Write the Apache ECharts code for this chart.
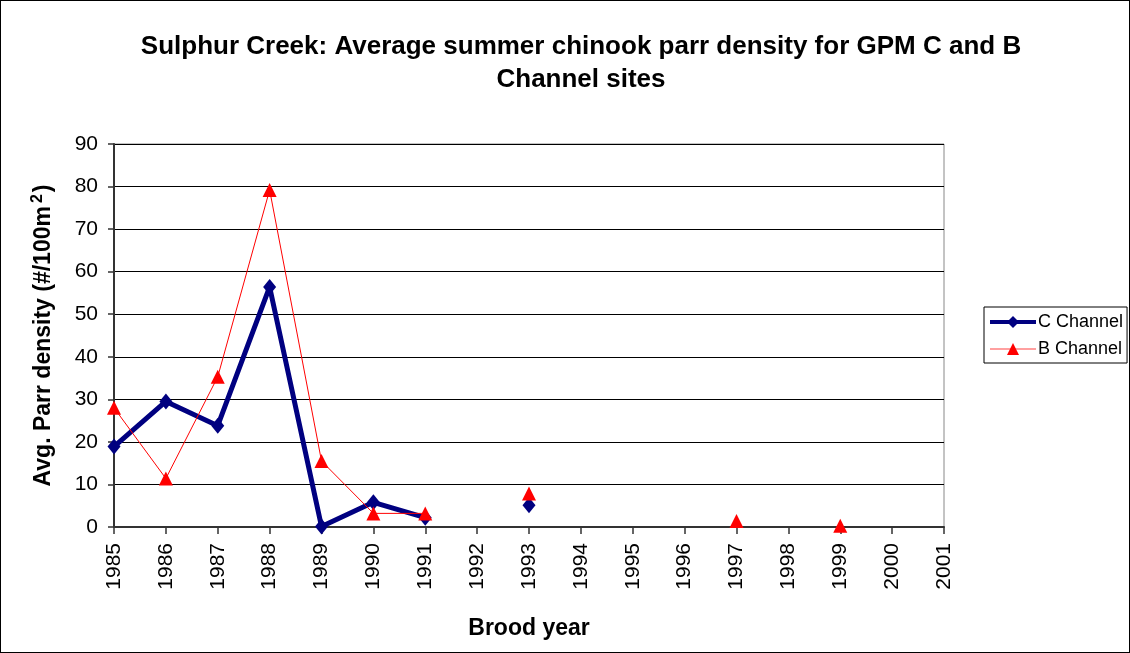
<!DOCTYPE html>
<html>
<head>
<meta charset="utf-8">
<script src="https://cdn.jsdelivr.net/npm/echarts@6/dist/echarts.min.js"></script>
<style>
  html, body { margin: 0; padding: 0; background: #fff; }
  #chart { width: 1130px; height: 653px; box-sizing: border-box; border: 1px solid #000; }
</style>
</head>
<body>
<div id="chart"></div>
<script>
// Brood years on the category axis
const years = ['1985','1986','1987','1988','1989','1990','1991','1992','1993','1994','1995','1996','1997','1998','1999','2000','2001'];
// Average parr density (#/100 m²); null where no sample
const cChannel = [18.9, 29.5, 23.8, 56.4, 0.1, 5.8, 2.2, null, 5.1, null, null, null, null, null, null, null, null];
const bChannel = [28.0, 11.4, 35.3, 79.2, 15.5, 3.2, 3.2, null, 7.9, null, null, null, 1.4, null, 0.3, null, null];
const yTicks = [0, 10, 20, 30, 40, 50, 60, 70, 80, 90];

const chart = echarts.init(document.getElementById('chart'));
const font = 'Liberation Sans, Arial, sans-serif';

chart.setOption({
  animation: false,
  backgroundColor: '#fff',
  title: {
    text: 'Sulphur Creek: Average summer chinook parr density for GPM C and B\nChannel sites',
    left: 575,
    textAlign: 'center',
    top: 24,
    textStyle: { fontFamily: font, fontWeight: 'bold', fontSize: 26, color: '#000', lineHeight: 33 }
  },
  legend: {
    orient: 'vertical',
    left: 983,
    top: 306,
    width: 144,
    padding: [6, 4, 5, 4],
    itemGap: 9,
    itemWidth: 46,
    itemHeight: 15,
    borderColor: '#000',
    borderWidth: 1,
    textStyle: { fontFamily: font, fontSize: 18, color: '#000', padding: [0, 0, 0, -3] },
    data: [
      { name: 'C Channel', lineStyle: { width: 4 } },
      { name: 'B Channel', lineStyle: { width: 1.5, color: '#ff8080' } }
    ]
  },
  grid: {
    left: 113, right: 185, top: 143, bottom: 125,
    show: true, borderColor: '#888', borderWidth: 1, backgroundColor: '#fff'
  },
  xAxis: {
    type: 'category',
    data: years,
    boundaryGap: false,
    name: 'Brood year',
    nameLocation: 'middle',
    nameGap: 90,
    nameTextStyle: { fontFamily: font, fontWeight: 'bold', fontSize: 23, color: '#000' },
    axisLine: { lineStyle: { color: '#333', width: 2 } },
    axisTick: { show: true, length: 7, lineStyle: { color: '#333', width: 1.5 }, alignWithLabel: true },
    axisLabel: { rotate: 90, fontFamily: font, fontSize: 21, color: '#000', margin: 16, interval: 0 },
    splitLine: { show: false }
  },
  yAxis: {
    type: 'value',
    min: yTicks[0],
    max: yTicks[yTicks.length - 1],
    interval: 10,
    name: 'Avg. Parr density (#/100m{sup|2})',
    nameLocation: 'middle',
    nameGap: 56,
    nameTextStyle: {
      fontFamily: font, fontWeight: 'bold', fontSize: 23, color: '#000',
      rich: { sup: { fontFamily: font, fontWeight: 'bold', fontSize: 16, verticalAlign: 'top', padding: [0, 2, 12, 3] } }
    },
    axisLine: { show: true, lineStyle: { color: '#333', width: 2 } },
    axisTick: { show: true, length: 6, lineStyle: { color: '#333', width: 1.5 } },
    axisLabel: { fontFamily: font, fontSize: 21, color: '#000', margin: 16 },
    splitLine: { show: true, lineStyle: { color: '#000', width: 1 } }
  },
  series: [
    {
      name: 'C Channel',
      type: 'line',
      data: cChannel,
      connectNulls: false,
      showAllSymbol: true,
      symbol: 'diamond',
      symbolSize: [13, 16],
      itemStyle: { color: '#000080' },
      lineStyle: { color: '#000080', width: 5 },
      z: 3
    },
    {
      name: 'B Channel',
      type: 'line',
      data: bChannel,
      connectNulls: false,
      showAllSymbol: true,
      symbol: 'triangle',
      symbolSize: [14, 14],
      itemStyle: { color: '#ff0000' },
      lineStyle: { color: '#ff0000', width: 1 },
      z: 4
    }
  ]
});
</script>
</body>
</html>
